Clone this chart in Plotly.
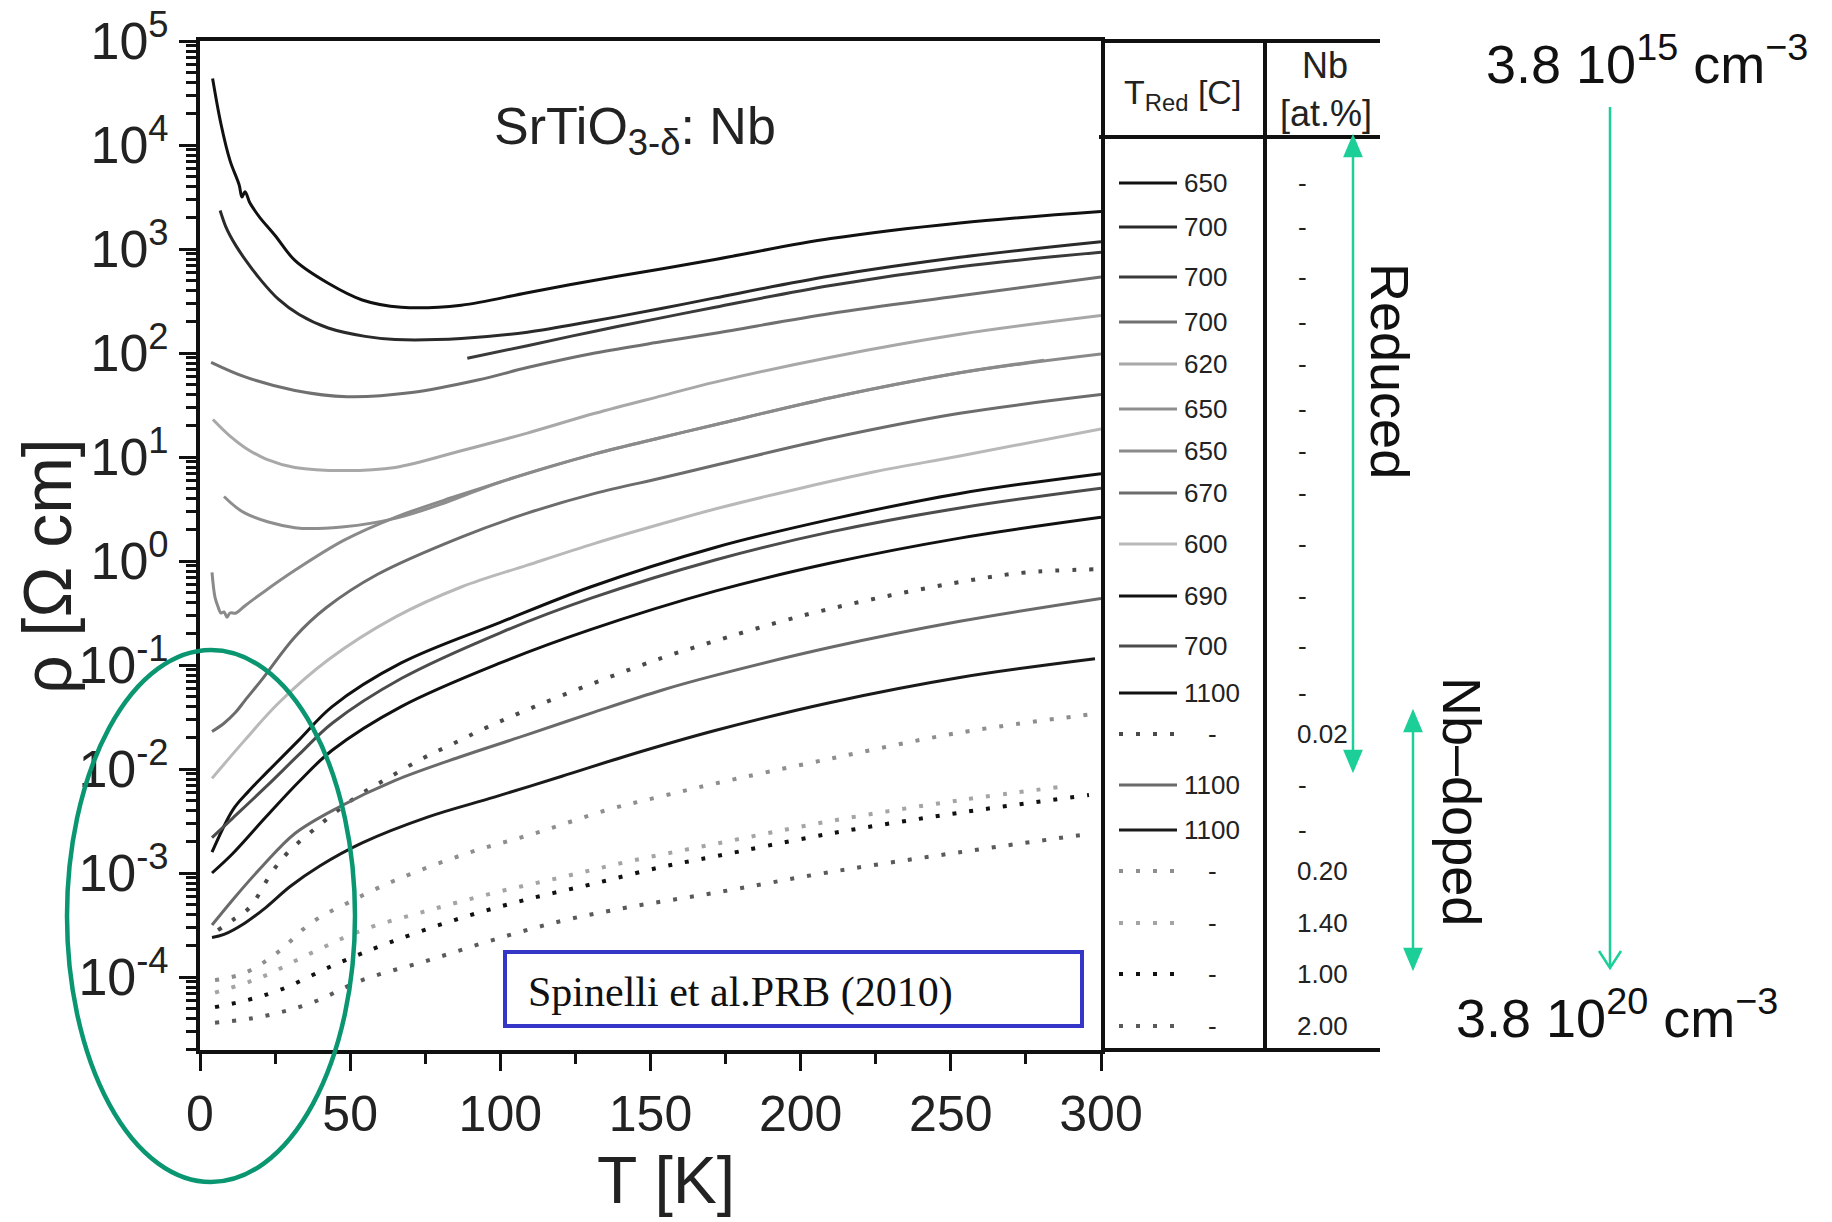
import numpy as np
import plotly.graph_objects as go

W, H = 1832, 1222
SANS = "Liberation Sans, Arial, Helvetica, sans-serif"
SERIF = "Liberation Serif, Times New Roman, serif"

# ---------------- data (T in K, log10 of resistivity in Ohm cm) ----------------
T_650a = [4.2, 7, 10, 13, 14, 15, 16.5, 18, 20, 25, 31.6, 42.7, 54, 67, 87, 109, 131.5, 154, 171.5, 210, 253, 300]
L_650a = [4.64, 4.20, 3.85, 3.62, 3.50, 3.55, 3.45, 3.38, 3.30, 3.13, 2.89, 2.67, 2.51, 2.44, 2.46, 2.58, 2.70, 2.81, 2.90, 3.10, 3.25, 3.36]

T_700a = [6.7, 8.5, 10, 12, 15, 20, 26, 33, 42.7, 55, 65, 87, 109, 131.5, 154, 171.5, 210, 253, 300]
L_700a = [3.37, 3.22, 3.13, 3.03, 2.90, 2.71, 2.52, 2.37, 2.24, 2.16, 2.13, 2.14, 2.20, 2.31, 2.43, 2.53, 2.74, 2.92, 3.07]

T_700b = [89, 109, 131.5, 154, 171.5, 210, 253, 300]
L_700b = [1.95, 2.07, 2.21, 2.34, 2.44, 2.65, 2.83, 2.97]

T_700c = [3.7, 15, 31.6, 49, 70.5, 92.5, 109, 131.5, 154, 171.5, 210, 253, 300]
L_700c = [1.91, 1.77, 1.64, 1.58, 1.62, 1.74, 1.86, 2.00, 2.11, 2.19, 2.38, 2.55, 2.73]

T_620 = [4.3, 10, 15, 22, 31.6, 48, 65, 87, 109, 131.5, 154, 171.5, 210, 253, 300]
L_620 = [1.36, 1.20, 1.09, 0.98, 0.90, 0.87, 0.90, 1.06, 1.23, 1.42, 1.59, 1.72, 1.96, 2.18, 2.36]

T_650b = [8, 15, 31.6, 48, 65, 81.6, 100, 131.5, 154, 171.5, 210, 253, 281]
L_650b = [0.62, 0.46, 0.32, 0.33, 0.41, 0.56, 0.76, 1.03, 1.19, 1.31, 1.57, 1.81, 1.93]

T_650c = [4, 5, 6, 7, 8, 9, 10, 12, 15, 20.6, 31.6, 48, 65, 85, 109, 131.5, 154, 171.5, 210, 253, 300]
L_650c = [-0.11, -0.35, -0.44, -0.50, -0.49, -0.54, -0.50, -0.50, -0.43, -0.31, -0.09, 0.20, 0.42, 0.62, 0.84, 1.03, 1.19, 1.31, 1.57, 1.81, 1.99]

T_670 = [4, 8, 11.7, 15, 20.6, 31.6, 42, 59, 87, 109, 131.5, 154, 171.5, 210, 253, 300]
L_670 = [-1.64, -1.56, -1.46, -1.34, -1.14, -0.73, -0.45, -0.13, 0.23, 0.46, 0.65, 0.80, 0.92, 1.18, 1.42, 1.60]

T_600 = [4, 15, 26, 42.7, 65, 87, 109, 131.5, 154, 171.5, 200, 225, 253, 300]
L_600 = [-2.09, -1.72, -1.37, -0.95, -0.54, -0.25, -0.04, 0.17, 0.36, 0.50, 0.70, 0.86, 1.01, 1.27]

T_690 = [4, 11, 16, 22, 33, 44, 67, 100, 130, 171.5, 210, 253, 300]
L_690 = [-2.80, -2.39, -2.22, -2.04, -1.72, -1.40, -0.98, -0.59, -0.25, 0.13, 0.40, 0.65, 0.84]

T_700d = [4, 11, 22, 33, 44, 67, 100, 130, 171.5, 210, 253, 300]
L_700d = [-2.66, -2.47, -2.17, -1.86, -1.56, -1.13, -0.69, -0.36, 0.01, 0.28, 0.51, 0.70]

T_1100a = [4, 11, 22, 33, 44, 67, 100, 130, 171.5, 210, 253, 300]
L_1100a = [-3.00, -2.81, -2.46, -2.12, -1.82, -1.40, -0.98, -0.66, -0.29, -0.02, 0.22, 0.42]

T_nb002 = [6, 11, 16.6, 24, 29, 41, 52, 63, 74, 84, 95.5, 114, 136, 154, 168, 200, 230, 257.5, 275, 298]
L_nb002 = [-3.55, -3.45, -3.33, -2.99, -2.81, -2.51, -2.27, -2.08, -1.90, -1.76, -1.60, -1.37, -1.12, -0.93, -0.80, -0.53, -0.33, -0.18, -0.11, -0.08]

T_1100b = [4, 11.7, 20.6, 31.6, 46, 65, 87, 109, 131.5, 154, 171.5, 210, 253, 300]
L_1100b = [-3.50, -3.23, -2.94, -2.62, -2.37, -2.11, -1.88, -1.67, -1.45, -1.24, -1.10, -0.83, -0.58, -0.36]

T_1100c = [4, 8, 15, 22, 30, 40, 54, 76, 98, 120.5, 142.5, 171.5, 210, 253, 298]
L_1100c = [-3.62, -3.59, -3.48, -3.33, -3.13, -2.93, -2.71, -2.46, -2.27, -2.07, -1.87, -1.63, -1.36, -1.12, -0.94]

T_nb020 = [5, 15, 26, 37, 49, 65, 89, 112.5, 136, 154, 171.5, 210, 253, 298]
L_nb020 = [-4.03, -3.96, -3.76, -3.48, -3.29, -3.07, -2.81, -2.61, -2.39, -2.26, -2.14, -1.90, -1.65, -1.47]

T_nb140 = [5, 20.6, 37, 54, 76, 98, 120.5, 142.5, 171.5, 210, 253, 287]
L_nb140 = [-4.15, -4.00, -3.77, -3.55, -3.36, -3.19, -3.04, -2.89, -2.72, -2.50, -2.30, -2.17]

T_nb100 = [5, 16, 27, 45, 63, 85, 108, 131.5, 154, 171.5, 210, 253, 296]
L_nb100 = [-4.29, -4.22, -4.12, -3.88, -3.67, -3.45, -3.26, -3.10, -2.94, -2.84, -2.62, -2.42, -2.25]

T_nb200 = [5, 20.6, 37, 54, 76, 98, 120.5, 142.5, 171.5, 210, 253, 297]
L_nb200 = [-4.44, -4.38, -4.25, -4.03, -3.84, -3.64, -3.46, -3.33, -3.19, -2.99, -2.80, -2.62]

# legend table (same order as the series)
legend_Tred = ["650", "700", "700", "700", "620", "650", "650", "670", "600", "690", "700", "1100",
               "-", "1100", "1100", "-", "-", "-", "-"]
legend_Nb = ["-", "-", "-", "-", "-", "-", "-", "-", "-", "-", "-", "-",
             "0.02", "-", "-", "0.20", "1.40", "1.00", "2.00"]

y_tick_exp = [5, 4, 3, 2, 1, 0, -1, -2, -3, -4]
x_ticks = [0, 50, 100, 150, 200, 250, 300]

# ---------------- styles ----------------
series = [
    (T_650a, L_650a, "#111111", "solid"),
    (T_700a, L_700a, "#2a2a2a", "solid"),
    (T_700b, L_700b, "#3a3a3a", "solid"),
    (T_700c, L_700c, "#707070", "solid"),
    (T_620, L_620, "#a8a8a8", "solid"),
    (T_650b, L_650b, "#8e8e8e", "solid"),
    (T_650c, L_650c, "#8a8a8a", "solid"),
    (T_670, L_670, "#6c6c6c", "solid"),
    (T_600, L_600, "#b9b9b9", "solid"),
    (T_690, L_690, "#111111", "solid"),
    (T_700d, L_700d, "#4c4c4c", "solid"),
    (T_1100a, L_1100a, "#111111", "solid"),
    (T_nb002, L_nb002, "#4a4a4a", "dot"),
    (T_1100b, L_1100b, "#6a6a6a", "solid"),
    (T_1100c, L_1100c, "#1a1a1a", "solid"),
    (T_nb020, L_nb020, "#8e8e8e", "dot"),
    (T_nb140, L_nb140, "#a4a4a4", "dot"),
    (T_nb100, L_nb100, "#111111", "dot"),
    (T_nb200, L_nb200, "#5a5a5a", "dot"),
]
DOT = "4px,13px"


def px(x):
    return x / W


def py(y):
    return 1 - y / H


fig = go.Figure()
for T, L, col, style in series:
    fig.add_trace(go.Scatter(
        x=T, y=np.power(10.0, np.array(L)), mode="lines",
        line=dict(color=col, width=3 if style == "solid" else 4,
                  dash="solid" if style == "solid" else DOT, shape="spline", smoothing=1.0),
        showlegend=False, hoverinfo="skip"))

# plot area in pixels
X0, X1 = 200, 1101
Y0, Y1 = 41, 1050
LOG_BOTTOM = -4 - (Y1 - 977) / 104.0
LOG_TOP = 5.0

minor_vals = [m * 10.0 ** k for k in range(-5, 5) for m in range(2, 10)]

fig.update_layout(
    width=W, height=H, margin=dict(l=0, r=0, t=0, b=0, autoexpand=False),
    paper_bgcolor="white", plot_bgcolor="white", showlegend=False,
    xaxis=dict(domain=[px(X0), px(X1)], range=[0, 300], showgrid=False, zeroline=False,
               automargin=False,
               showline=True, linecolor="#111", linewidth=4, mirror=True,
               tickmode="array", tickvals=x_ticks, ticktext=[str(v) for v in x_ticks],
               ticks="outside", ticklen=17, tickwidth=3, tickcolor="#111",
               minor=dict(tickmode="array", tickvals=[25, 75, 125, 175, 225, 275],
                          ticks="outside", ticklen=10, tickwidth=3, tickcolor="#111"),
               tickfont=dict(family=SANS, size=50, color="#222")),
    yaxis=dict(domain=[py(Y1), py(Y0)], type="log", range=[LOG_BOTTOM, LOG_TOP],
               automargin=False,
               showgrid=False, zeroline=False, showline=True, linecolor="#111", linewidth=4,
               mirror=True, tickmode="array",
               tickvals=[10.0 ** e for e in y_tick_exp],
               ticktext=["10<sup>%d</sup>" % e for e in y_tick_exp],
               ticks="outside", ticklen=17, tickwidth=3, tickcolor="#111",
               minor=dict(tickmode="array", tickvals=minor_vals, ticks="outside",
                          ticklen=10, tickwidth=2.5, tickcolor="#111"),
               tickfont=dict(family=SANS, size=52, color="#222")),
)

shapes = []
ann = []

LW = 4
def hline(x0, x1, y, w=LW, col="#111"):
    shapes.append(dict(type="line", xref="paper", yref="paper", x0=px(x0), x1=px(x1),
                       y0=py(y), y1=py(y), line=dict(color=col, width=w)))

def vline(x, y0, y1, w=LW, col="#111"):
    shapes.append(dict(type="line", xref="paper", yref="paper", x0=px(x), x1=px(x),
                       y0=py(y0), y1=py(y1), line=dict(color=col, width=w)))

# table frame
hline(X1, 1380, Y0)
hline(X1 - 2, 1380, 137)
hline(X1, 1380, Y1)
vline(1265, Y0, Y1)

# legend rows
row_y = [183, 227, 277, 322, 364, 409, 451, 493, 544, 596, 646, 693, 734, 785, 830, 871, 923, 974, 1026]
for i, (T, L, col, style) in enumerate(series):
    yy = row_y[i]
    shapes.append(dict(type="line", xref="paper", yref="paper", x0=px(1119), x1=px(1177),
                       y0=py(yy), y1=py(yy),
                       line=dict(color=col, width=3 if style == "solid" else 4,
                                 dash="solid" if style == "solid" else DOT)))
    if legend_Tred[i] == "-":
        ann.append(dict(x=px(1212), y=py(yy), text="-", xanchor="center", yanchor="middle",
                        font=dict(family=SANS, size=26, color="#222")))
    else:
        ann.append(dict(x=px(1182), y=py(yy), text=legend_Tred[i], xanchor="left", yanchor="middle",
                        font=dict(family=SANS, size=26, color="#222")))
    ann.append(dict(x=px(1302 if legend_Nb[i] == "-" else 1322), y=py(yy), text=legend_Nb[i],
                    xanchor="center", yanchor="middle",
                    font=dict(family=SANS, size=26, color="#222")))

# headers
ann.append(dict(x=px(1182), y=py(95), text="T<sub>Red</sub> [C]", xanchor="center", yanchor="middle",
                font=dict(family=SANS, size=34, color="#222")))
ann.append(dict(x=px(1325), y=py(66), text="Nb", xanchor="center", yanchor="middle",
                font=dict(family=SANS, size=36, color="#222")))
ann.append(dict(x=px(1326), y=py(114), text="[at.%]", xanchor="center", yanchor="middle",
                font=dict(family=SANS, size=36, color="#222")))

# title inside the plot
ann.append(dict(x=px(635), y=py(130), text="SrTiO<sub>3-δ</sub>: Nb", xanchor="center", yanchor="middle",
                font=dict(family=SANS, size=52, color="#222")))

# axis titles
ann.append(dict(x=px(666), y=py(1180), text="T [K]", xanchor="center", yanchor="middle",
                font=dict(family=SANS, size=66, color="#222")))
ann.append(dict(x=px(47), y=py(566), text="ρ [Ω cm]", textangle=-90, xanchor="center", yanchor="middle",
                font=dict(family=SANS, size=68, color="#222")))

# citation box
shapes.append(dict(type="rect", xref="paper", yref="paper", x0=px(505), x1=px(1082),
                   y0=py(1026), y1=py(952), line=dict(color="#3535c8", width=4)))
ann.append(dict(x=px(526), y=py(992), text="Spinelli et al.PRB (2010)", xanchor="left", yanchor="middle",
                font=dict(family=SERIF, size=42, color="#111")))

# green ellipse
shapes.append(dict(type="circle", xref="paper", yref="paper", x0=px(67), x1=px(355),
                   y0=py(1182), y1=py(650), line=dict(color="#0a9670", width=4.5), layer="above"))

# arrows
MINT = "#1ccf98"

def path_shape(pts, fill=True):
    d = "M " + " L ".join("%f,%f" % (px(a), py(b)) for a, b in pts)
    if fill:
        d += " Z"
    shapes.append(dict(type="path", xref="paper", yref="paper", path=d,
                       line=dict(color=MINT, width=2.5),
                       fillcolor=MINT if fill else "rgba(0,0,0,0)"))

# Reduced (double headed)
vline(1353, 152, 755, w=2.5, col=MINT)
path_shape([(1353, 137), (1345, 156), (1361, 156)])
path_shape([(1353, 770), (1345, 751), (1361, 751)])
# Nb-doped (double headed)
vline(1413, 727, 953, w=2.5, col=MINT)
path_shape([(1413, 712), (1405, 731), (1421, 731)])
path_shape([(1413, 968), (1405, 949), (1421, 949)])
# long arrow on the right (open head)
vline(1610, 107, 966, w=2.5, col=MINT)
path_shape([(1599, 951), (1610, 968), (1621, 951)], fill=False)

ann.append(dict(x=px(1390), y=py(371), text="Reduced", textangle=90, xanchor="center", yanchor="middle",
                font=dict(family=SANS, size=54, color="#111")))
ann.append(dict(x=px(1462), y=py(801), text="Nb–doped", textangle=90, xanchor="center", yanchor="middle",
                font=dict(family=SANS, size=54, color="#111")))
ann.append(dict(x=px(1647), y=py(60), text="3.8 10<sup>15</sup> cm<sup>−3</sup>", xanchor="center",
                yanchor="middle", font=dict(family=SANS, size=54, color="#111")))
ann.append(dict(x=px(1617), y=py(1014), text="3.8 10<sup>20</sup> cm<sup>−3</sup>", xanchor="center",
                yanchor="middle", font=dict(family=SANS, size=54, color="#111")))

for a in ann:
    a.setdefault("xref", "paper")
    a.setdefault("yref", "paper")
    a.setdefault("showarrow", False)

fig.update_layout(shapes=shapes, annotations=ann)
fig.write_html("out.html")
